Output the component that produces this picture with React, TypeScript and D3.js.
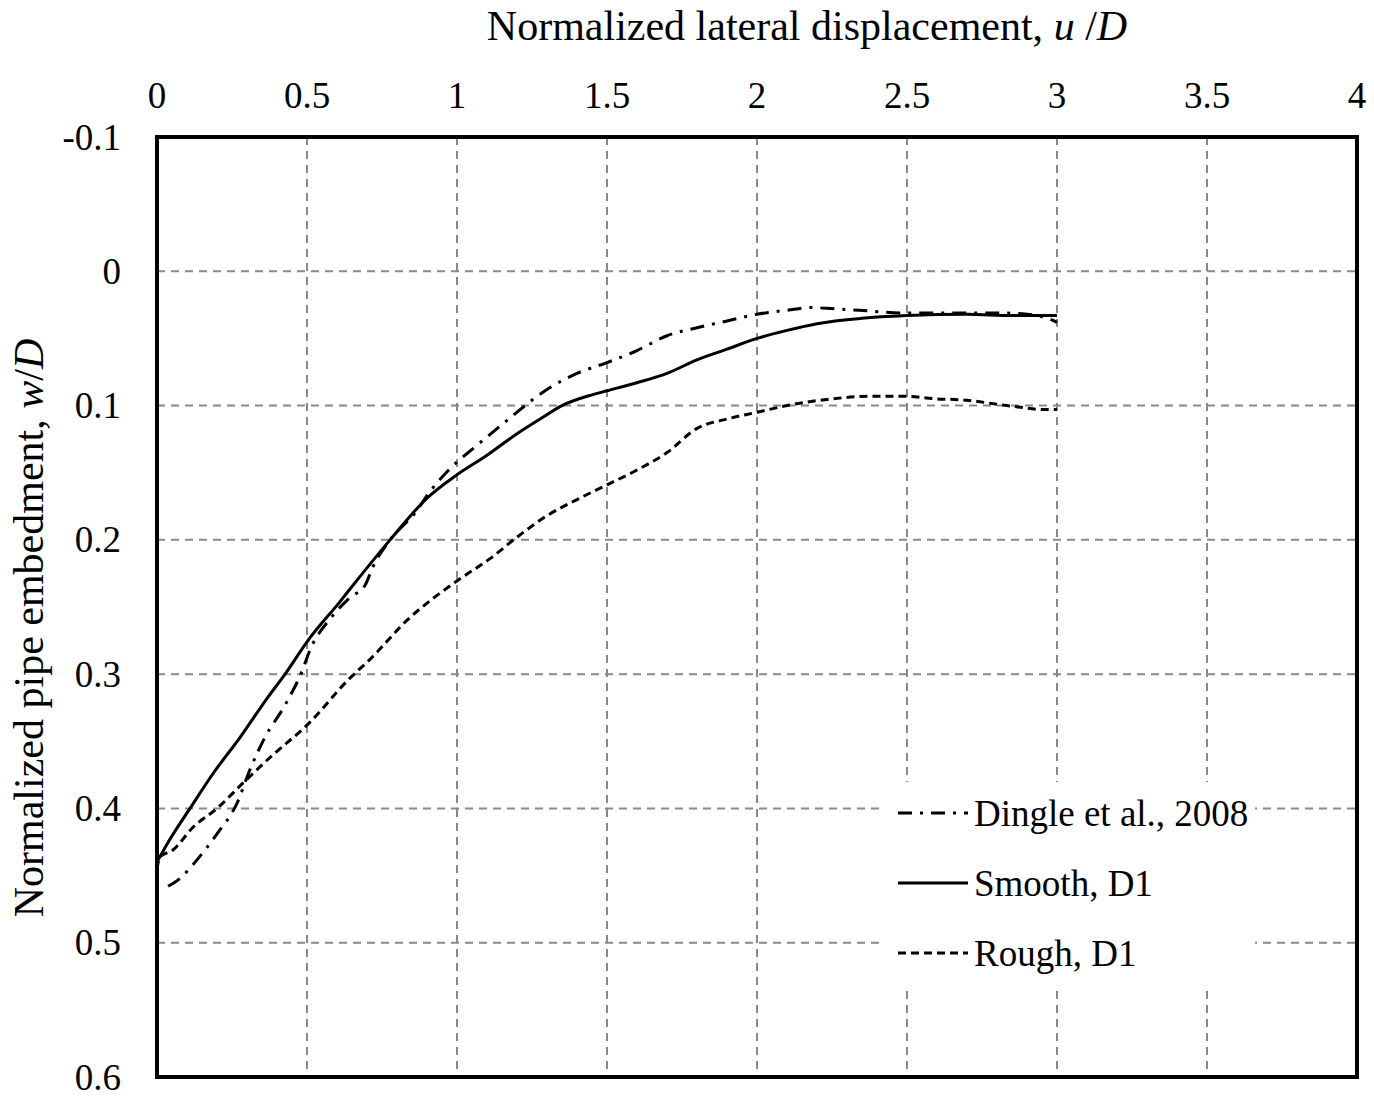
import React from "react";
import * as d3 from "d3";

const xTicks = [0, 0.5, 1, 1.5, 2, 2.5, 3, 3.5, 4];
const yTicks = [-0.1, 0, 0.1, 0.2, 0.3, 0.4, 0.5, 0.6];

const dingleU = [0.037, 0.077, 0.127, 0.203, 0.267, 0.31, 0.36, 0.427, 0.483, 0.51, 0.58, 0.643, 0.693, 0.72, 0.777, 0.867, 0.9, 0.977, 1.07, 1.167, 1.3, 1.4, 1.5, 1.6, 1.7, 1.8, 1.9, 2.0, 2.1, 2.18, 2.26, 2.34, 2.48, 2.6, 2.7, 2.8, 2.9, 2.98, 3.0];
const dingleW = [0.458, 0.452, 0.44, 0.418, 0.396, 0.371, 0.347, 0.323, 0.298, 0.282, 0.258, 0.243, 0.234, 0.22, 0.2, 0.178, 0.167, 0.147, 0.129, 0.111, 0.088, 0.076, 0.068, 0.059, 0.048, 0.042, 0.037, 0.032, 0.029, 0.027, 0.028, 0.029, 0.031, 0.031, 0.031, 0.031, 0.032, 0.036, 0.038];

const smoothU = [0.0, 0.043, 0.11, 0.187, 0.277, 0.367, 0.427, 0.503, 0.61, 0.667, 0.777, 0.9, 0.997, 1.1, 1.2, 1.277, 1.35, 1.45, 1.5, 1.6, 1.7, 1.8, 1.9, 2.0, 2.1, 2.2, 2.35, 2.5, 2.7, 2.85, 3.0];
const smoothW = [0.44, 0.423, 0.4, 0.374, 0.347, 0.318, 0.3, 0.275, 0.246, 0.23, 0.2, 0.169, 0.152, 0.137, 0.121, 0.11, 0.1, 0.092, 0.089, 0.083, 0.076, 0.066, 0.058, 0.05, 0.044, 0.039, 0.035, 0.033, 0.032, 0.033, 0.033];

const roughU = [0.0, 0.01, 0.053, 0.12, 0.2, 0.287, 0.387, 0.5, 0.643, 0.71, 0.833, 0.997, 1.11, 1.2, 1.3, 1.4, 1.5, 1.6, 1.7, 1.8, 1.9, 2.0, 2.1, 2.25, 2.38, 2.48, 2.6, 2.7, 2.8, 2.87, 2.95, 3.0];
const roughW = [0.445, 0.436, 0.431, 0.414, 0.4, 0.381, 0.36, 0.338, 0.303, 0.289, 0.26, 0.231, 0.214, 0.198, 0.182, 0.17, 0.159, 0.148, 0.135, 0.117, 0.11, 0.105, 0.1, 0.095, 0.093, 0.093, 0.095, 0.096, 0.099, 0.101, 0.103, 0.103];

const series = [
  { name: "Dingle et al., 2008", u: dingleU, w: dingleW, dash: "14,8,3,8" },
  { name: "Smooth, D1", u: smoothU, w: smoothW, dash: "none" },
  { name: "Rough, D1", u: roughU, w: roughW, dash: "8,5" },
];

const fmt = (t: number) => String(t);

export default function App() {
  const W = 1374, H = 1097;
  const left = 157, right = 1357, top = 137, bottom = 1077;
  const x = d3.scaleLinear().domain([0, 4]).range([left, right]);
  const y = d3.scaleLinear().domain([-0.1, 0.6]).range([top, bottom]);
  const line = d3.line<[number, number]>().x((d) => x(d[0])).y((d) => y(d[1])).curve(d3.curveMonotoneX);
  const font = "'Liberation Serif', 'Times New Roman', serif";
  const legX = 885, legY = 782;
  return (
    <svg width={W} height={H} style={{ position: "absolute", left: 0, top: 0 }} fontFamily={font}>
      <rect x={0} y={0} width={W} height={H} fill="#fff" />
      {xTicks.slice(1, -1).map((t) => (
        <line key={"gx" + t} x1={x(t)} x2={x(t)} y1={top} y2={bottom} stroke="#888" strokeWidth={2} strokeDasharray="8,6" />
      ))}
      {yTicks.slice(1, -1).map((t) => (
        <line key={"gy" + t} x1={left} x2={right} y1={y(t)} y2={y(t)} stroke="#888" strokeWidth={2} strokeDasharray="8,6" />
      ))}
      {series.map((s) => (
        <path key={s.name} d={line(s.u.map((u, i) => [u, s.w[i]] as [number, number])) || ""} fill="none" stroke="#000" strokeWidth={3} strokeDasharray={s.dash} />
      ))}
      <rect x={legX} y={legY} width={370} height={203} fill="#fff" />
      {series.map((s, i) => {
        const ly = 813 + i * 70;
        return (
          <g key={"leg" + s.name}>
            <line x1={898} x2={968} y1={ly} y2={ly} stroke="#000" strokeWidth={3} strokeDasharray={s.dash} />
            <text x={974} y={ly + 13} fontSize={37} fill="#000">{s.name}</text>
          </g>
        );
      })}
      <rect x={left} y={top} width={right - left} height={bottom - top} fill="none" stroke="#000" strokeWidth={4} />
      {xTicks.map((t) => (
        <text key={"xt" + t} x={x(t)} y={108} fontSize={37} textAnchor="middle">{fmt(t)}</text>
      ))}
      {yTicks.map((t) => (
        <text key={"yt" + t} x={121} y={y(t) + 12.5} fontSize={37} textAnchor="end">{fmt(t)}</text>
      ))}
      <text x={807} y={40} fontSize={42} textAnchor="middle">
        Normalized lateral displacement, <tspan fontStyle="italic">u</tspan> /<tspan fontStyle="italic">D</tspan>
      </text>
      <text transform="translate(43,628) rotate(-90)" fontSize={42} textAnchor="middle">
        Normalized pipe embedment, <tspan fontStyle="italic">w</tspan>/<tspan fontStyle="italic">D</tspan>
      </text>
    </svg>
  );
}
